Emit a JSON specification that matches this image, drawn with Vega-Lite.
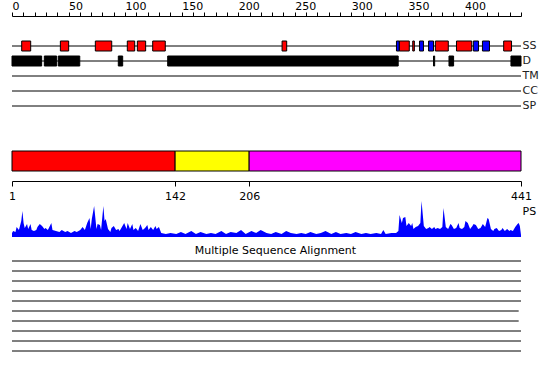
{
  "$schema": "https://vega.github.io/schema/vega-lite/v6.json",
  "background": "white",
  "padding": {"left": 8, "top": 0, "right": 0, "bottom": 0},
  "bounds": "flush",
  "spacing": 0,
  "resolve": {"scale": {"x": "independent", "y": "independent", "color": "independent"}},
  "config": {
    "view": {"stroke": null},
    "font": "DejaVu Sans",
    "axis": {"labelFont": "DejaVu Sans", "titleFont": "DejaVu Sans", "grid": false},
    "title": {"font": "DejaVu Sans"}
  },
  "datasets": {
    "tracks": [
      {"track": "SS", "start": 0, "end": 450},
      {"track": "D", "start": 0, "end": 450},
      {"track": "TM", "start": 0, "end": 450},
      {"track": "CC", "start": 0, "end": 450},
      {"track": "SP", "start": 0, "end": 450}
    ],
    "features": [
      {"track": "SS", "type": "helix", "start": 8.4, "end": 16.2},
      {"track": "SS", "type": "helix", "start": 41.9, "end": 49.1},
      {"track": "SS", "type": "helix", "start": 72.2, "end": 86.4},
      {"track": "SS", "type": "helix", "start": 99.9, "end": 106.3},
      {"track": "SS", "type": "helix", "start": 108.6, "end": 115.8},
      {"track": "SS", "type": "helix", "start": 121.9, "end": 132.8},
      {"track": "SS", "type": "helix", "start": 234, "end": 238},
      {"track": "SS", "type": "strand", "start": 333.1, "end": 335.6},
      {"track": "SS", "type": "helix", "start": 335.6, "end": 344.2},
      {"track": "SS", "type": "helix", "start": 347.2, "end": 348.6},
      {"track": "SS", "type": "strand", "start": 353.1, "end": 356.5},
      {"track": "SS", "type": "strand", "start": 360.9, "end": 365.2},
      {"track": "SS", "type": "helix", "start": 366.8, "end": 378.0},
      {"track": "SS", "type": "helix", "start": 385.1, "end": 398.3},
      {"track": "SS", "type": "strand", "start": 399.7, "end": 404.2},
      {"track": "SS", "type": "strand", "start": 407.6, "end": 413.7},
      {"track": "SS", "type": "helix", "start": 426.0, "end": 432.8},
      {"track": "D", "type": "disorder", "start": 0, "end": 25.7},
      {"track": "D", "type": "disorder", "start": 28, "end": 38.7},
      {"track": "D", "type": "disorder", "start": 40.1, "end": 58.7},
      {"track": "D", "type": "disorder", "start": 92.1, "end": 95.9},
      {"track": "D", "type": "disorder", "start": 134.9, "end": 334.6},
      {"track": "D", "type": "disorder", "start": 365.2, "end": 366.2},
      {"track": "D", "type": "disorder", "start": 378.6, "end": 382.6},
      {"track": "D", "type": "disorder", "start": 432.3, "end": 441}
    ],
    "domains": [
      {"domain": "d1", "start": 1, "end": 142},
      {"domain": "d2", "start": 142, "end": 206},
      {"domain": "d3", "start": 206, "end": 441}
    ],
    "ps": [
      {"r": 1, "v": 4}, {"r": 2, "v": 6}, {"r": 4, "v": 5}, {"r": 5, "v": 10}, {"r": 7, "v": 7},
      {"r": 9, "v": 16}, {"r": 10, "v": 26}, {"r": 11, "v": 14}, {"r": 12, "v": 9}, {"r": 14, "v": 13},
      {"r": 15, "v": 8}, {"r": 17, "v": 13}, {"r": 18, "v": 7}, {"r": 20, "v": 6}, {"r": 22, "v": 7},
      {"r": 23, "v": 10}, {"r": 25, "v": 13}, {"r": 27, "v": 11}, {"r": 29, "v": 8}, {"r": 30, "v": 9},
      {"r": 32, "v": 7}, {"r": 35, "v": 14}, {"r": 36, "v": 7}, {"r": 39, "v": 6}, {"r": 42, "v": 5},
      {"r": 44, "v": 7}, {"r": 47, "v": 5}, {"r": 49, "v": 6}, {"r": 52, "v": 4}, {"r": 55, "v": 6},
      {"r": 57, "v": 5}, {"r": 60, "v": 7}, {"r": 62, "v": 10}, {"r": 64, "v": 7}, {"r": 66, "v": 14},
      {"r": 68, "v": 19}, {"r": 69, "v": 8}, {"r": 70, "v": 18}, {"r": 72, "v": 31}, {"r": 74, "v": 8},
      {"r": 75, "v": 13}, {"r": 77, "v": 12}, {"r": 78, "v": 7}, {"r": 80, "v": 31}, {"r": 81, "v": 16},
      {"r": 82, "v": 18}, {"r": 84, "v": 8}, {"r": 86, "v": 5}, {"r": 87, "v": 9}, {"r": 89, "v": 11},
      {"r": 91, "v": 7}, {"r": 93, "v": 8}, {"r": 94, "v": 6}, {"r": 96, "v": 10}, {"r": 98, "v": 14},
      {"r": 100, "v": 8}, {"r": 101, "v": 14}, {"r": 103, "v": 8}, {"r": 105, "v": 13}, {"r": 106, "v": 7},
      {"r": 108, "v": 9}, {"r": 110, "v": 6}, {"r": 112, "v": 13}, {"r": 114, "v": 7}, {"r": 116, "v": 9},
      {"r": 118, "v": 12}, {"r": 119, "v": 7}, {"r": 121, "v": 10}, {"r": 123, "v": 7}, {"r": 125, "v": 11},
      {"r": 126, "v": 8}, {"r": 128, "v": 10}, {"r": 130, "v": 4}, {"r": 134, "v": 3}, {"r": 138, "v": 4},
      {"r": 143, "v": 3}, {"r": 147, "v": 5}, {"r": 151, "v": 3}, {"r": 156, "v": 6}, {"r": 160, "v": 3},
      {"r": 164, "v": 5}, {"r": 169, "v": 3}, {"r": 173, "v": 4}, {"r": 177, "v": 3}, {"r": 182, "v": 6},
      {"r": 186, "v": 3}, {"r": 190, "v": 5}, {"r": 195, "v": 4}, {"r": 199, "v": 7}, {"r": 203, "v": 3},
      {"r": 208, "v": 6}, {"r": 212, "v": 4}, {"r": 216, "v": 7}, {"r": 221, "v": 4}, {"r": 225, "v": 3},
      {"r": 229, "v": 5}, {"r": 234, "v": 3}, {"r": 238, "v": 6}, {"r": 242, "v": 4}, {"r": 247, "v": 3},
      {"r": 251, "v": 4}, {"r": 255, "v": 3}, {"r": 259, "v": 5}, {"r": 264, "v": 3}, {"r": 268, "v": 4},
      {"r": 272, "v": 6}, {"r": 277, "v": 3}, {"r": 281, "v": 5}, {"r": 285, "v": 3}, {"r": 290, "v": 4},
      {"r": 294, "v": 3}, {"r": 298, "v": 5}, {"r": 303, "v": 3}, {"r": 307, "v": 4}, {"r": 311, "v": 3},
      {"r": 316, "v": 4}, {"r": 320, "v": 3}, {"r": 322, "v": 7}, {"r": 324, "v": 3}, {"r": 329, "v": 4},
      {"r": 333, "v": 4}, {"r": 335, "v": 6}, {"r": 336, "v": 22}, {"r": 338, "v": 14}, {"r": 339, "v": 19},
      {"r": 341, "v": 20}, {"r": 342, "v": 11}, {"r": 344, "v": 14}, {"r": 346, "v": 11}, {"r": 347, "v": 14},
      {"r": 348, "v": 8}, {"r": 350, "v": 10}, {"r": 352, "v": 11}, {"r": 354, "v": 14}, {"r": 355, "v": 36},
      {"r": 357, "v": 11}, {"r": 359, "v": 8}, {"r": 361, "v": 9}, {"r": 362, "v": 10}, {"r": 364, "v": 8},
      {"r": 366, "v": 10}, {"r": 367, "v": 8}, {"r": 369, "v": 9}, {"r": 371, "v": 8}, {"r": 373, "v": 10},
      {"r": 374, "v": 29}, {"r": 376, "v": 10}, {"r": 378, "v": 8}, {"r": 380, "v": 13}, {"r": 381, "v": 12},
      {"r": 383, "v": 8}, {"r": 385, "v": 9}, {"r": 387, "v": 14}, {"r": 388, "v": 9}, {"r": 390, "v": 8},
      {"r": 392, "v": 10}, {"r": 393, "v": 16}, {"r": 395, "v": 14}, {"r": 397, "v": 8}, {"r": 399, "v": 11},
      {"r": 400, "v": 13}, {"r": 402, "v": 12}, {"r": 404, "v": 8}, {"r": 406, "v": 9}, {"r": 408, "v": 13},
      {"r": 410, "v": 10}, {"r": 412, "v": 19}, {"r": 413, "v": 18}, {"r": 415, "v": 8}, {"r": 417, "v": 6},
      {"r": 418, "v": 8}, {"r": 420, "v": 9}, {"r": 422, "v": 6}, {"r": 424, "v": 7}, {"r": 425, "v": 9},
      {"r": 427, "v": 6}, {"r": 429, "v": 8}, {"r": 431, "v": 6}, {"r": 432, "v": 7}, {"r": 434, "v": 6},
      {"r": 436, "v": 10}, {"r": 438, "v": 13}, {"r": 439, "v": 14}, {"r": 440, "v": 11}, {"r": 441, "v": 2}
    ],
    "msa": [
      {"row": 1, "start": 1, "end": 441},
      {"row": 2, "start": 1, "end": 441},
      {"row": 3, "start": 1, "end": 441},
      {"row": 4, "start": 1, "end": 441},
      {"row": 5, "start": 1, "end": 441},
      {"row": 6, "start": 1, "end": 439},
      {"row": 7, "start": 1, "end": 439},
      {"row": 8, "start": 1, "end": 441},
      {"row": 9, "start": 1, "end": 441},
      {"row": 10, "start": 1, "end": 441}
    ]
  },
  "vconcat": [
    {
      "width": 509,
      "height": 135,
      "resolve": {"scale": {"x": "independent"}},
      "layer": [
        {
          "data": {"name": "tracks"},
          "mark": {"type": "rule", "color": "black", "strokeWidth": 1},
          "encoding": {
            "x": {
              "field": "start", "type": "quantitative",
              "scale": {"domain": [0, 450], "nice": false, "zero": false},
              "axis": {
                "orient": "top",
                "values": [0, 10, 20, 30, 40, 50, 60, 70, 80, 90, 100, 110, 120, 130, 140, 150, 160, 170, 180, 190, 200, 210, 220, 230, 240, 250, 260, 270, 280, 290, 300, 310, 320, 330, 340, 350, 360, 370, 380, 390, 400, 410, 420, 430, 440, 450],
                "labelExpr": "datum.value % 50 === 0 && datum.value < 450 ? datum.label : ''",
                "tickSize": 4, "tickColor": "black", "domainColor": "black",
                "labelAlign": "left", "labelPadding": 1, "labelFontSize": 11,
                "labelColor": "black", "labelFlush": false, "labelOverlap": false,
                "title": null
              }
            },
            "x2": {"field": "end"},
            "y": {
              "field": "track", "type": "nominal",
              "scale": {"domain": ["SS", "D", "TM", "CC", "SP"], "range": [22.5, 97.5]},
              "axis": {
                "orient": "right", "domain": false, "ticks": false,
                "labelPadding": 1, "labelFontSize": 11, "labelColor": "#222222", "title": null
              }
            }
          }
        },
        {
          "data": {"name": "features"},
          "mark": {"type": "bar", "height": 10, "stroke": "black", "strokeWidth": 1},
          "encoding": {
            "x": {
              "field": "start", "type": "quantitative",
              "scale": {"domain": [0, 441], "nice": false, "zero": false},
              "axis": null
            },
            "x2": {"field": "end"},
            "y": {"field": "track", "type": "nominal"},
            "color": {
              "field": "type", "type": "nominal",
              "scale": {"domain": ["helix", "strand", "disorder"], "range": ["#ff0000", "#0000ff", "#000000"]},
              "legend": null
            }
          }
        }
      ]
    },
    {
      "width": 509,
      "height": 20,
      "data": {"name": "domains"},
      "mark": {"type": "rect", "stroke": "black", "strokeWidth": 1},
      "encoding": {
        "x": {
          "field": "start", "type": "quantitative",
          "scale": {"domain": [1, 441], "nice": false, "zero": false},
          "axis": {
            "orient": "bottom", "values": [1, 142, 206, 441], "offset": 10,
            "tickSize": 5, "tickColor": "black", "domainColor": "black",
            "labelPadding": 4, "labelFlush": false, "labelOverlap": false,
            "labelFontSize": 11, "labelColor": "black", "title": null
          }
        },
        "x2": {"field": "end"},
        "color": {
          "field": "domain", "type": "nominal",
          "scale": {"domain": ["d1", "d2", "d3"], "range": ["#ff0000", "#ffff00", "#ff00ff"]},
          "legend": null
        }
      }
    },
    {
      "width": 509,
      "height": 66,
      "data": {"name": "ps"},
      "mark": {"type": "area", "color": "#0000ff", "interpolate": "linear"},
      "encoding": {
        "x": {
          "field": "r", "type": "quantitative",
          "scale": {"domain": [1, 441], "nice": false, "zero": false},
          "axis": null
        },
        "y": {
          "field": "v", "type": "quantitative",
          "scale": {"domain": [0, 66], "nice": false},
          "axis": {
            "orient": "right", "domain": false, "ticks": false, "labels": false,
            "title": "PS", "titleAngle": 0, "titleAlign": "left", "titleBaseline": "middle",
            "titleX": 1, "titleY": 40, "titleFontSize": 11, "titleFontWeight": "normal", "titleColor": "black"
          }
        }
      }
    },
    {
      "width": 509,
      "height": 114,
      "data": {"name": "msa"},
      "title": {
        "text": "Multiple Sequence Alignment", "fontSize": 11, "fontWeight": "normal",
        "color": "black", "anchor": "middle", "dx": 9, "offset": -30, "baseline": "bottom", "frame": "group"
      },
      "mark": {"type": "rule", "color": "black", "strokeWidth": 1},
      "encoding": {
        "x": {
          "field": "start", "type": "quantitative",
          "scale": {"domain": [1, 441], "nice": false, "zero": false},
          "axis": null
        },
        "x2": {"field": "end"},
        "y": {
          "field": "row", "type": "ordinal",
          "scale": {"range": [19, 119]},
          "axis": null
        }
      }
    }
  ]
}
